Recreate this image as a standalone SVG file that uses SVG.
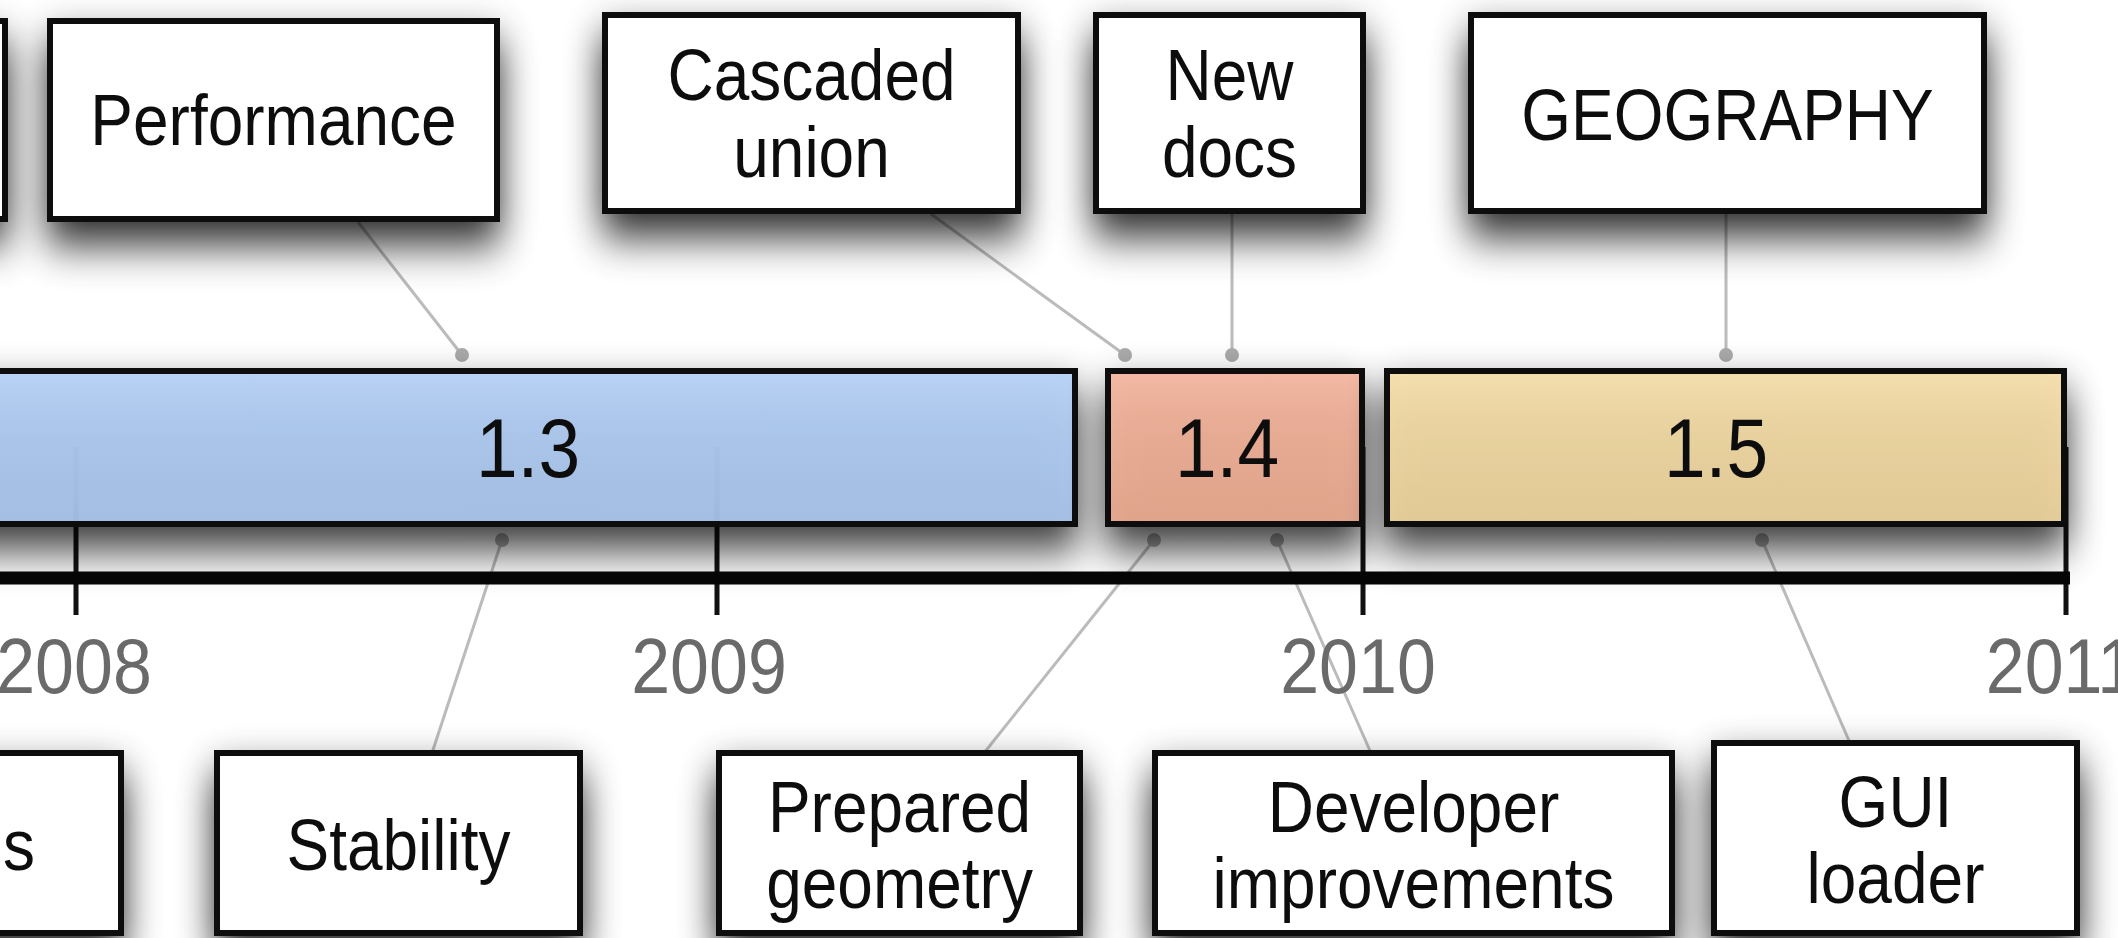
<svg xmlns="http://www.w3.org/2000/svg" width="2118" height="938" viewBox="0 0 2118 938">
<style>
.box{fill:#ffffff;stroke:#111111;stroke-width:6}
.bar{stroke:#111111;stroke-width:6;fill-opacity:0.92}
.t{font-family:"Liberation Sans",Arial,Helvetica,sans-serif;font-size:64px;fill:#111111;text-anchor:middle}
.bt{font-family:"Liberation Sans",Arial,Helvetica,sans-serif;font-size:75px;fill:#111111;text-anchor:middle}
.yr{font-family:"Liberation Sans",Arial,Helvetica,sans-serif;font-size:70px;fill:#6a6a6a;text-anchor:middle}
.con{stroke:#bbbbbb;stroke-width:3;fill:none}
.dot{fill:#aaaaaa}
.tick{stroke:#111111;stroke-width:5}
</style>
<defs>
<filter id="sh" x="-30%" y="-80%" width="160%" height="260%">
<feGaussianBlur in="SourceAlpha" stdDeviation="18 22"/>
<feOffset dy="22"/>
<feComponentTransfer><feFuncA type="linear" slope="0.85"/></feComponentTransfer>
<feMerge><feMergeNode/><feMergeNode in="SourceGraphic"/></feMerge>
</filter>
<linearGradient id="gBlue" x1="0" y1="0" x2="0" y2="1"><stop offset="0" stop-color="#b5d0f6"/><stop offset="1" stop-color="#a6c1e8"/></linearGradient>
<linearGradient id="gRed" x1="0" y1="0" x2="0" y2="1"><stop offset="0" stop-color="#f3b59e"/><stop offset="1" stop-color="#e5a58b"/></linearGradient>
<linearGradient id="gYel" x1="0" y1="0" x2="0" y2="1"><stop offset="0" stop-color="#f4dda9"/><stop offset="1" stop-color="#e6ce97"/></linearGradient>
</defs>
<rect x="0" y="0" width="2118" height="938" fill="#ffffff"/>

<g id="connectors">
<line class="con" x1="358" y1="222" x2="462" y2="355"/>
<circle class="dot" cx="462" cy="355" r="7"/>
<line class="con" x1="931" y1="214" x2="1125" y2="355"/>
<circle class="dot" cx="1125" cy="355" r="7"/>
<line class="con" x1="1232" y1="214" x2="1232" y2="355"/>
<circle class="dot" cx="1232" cy="355" r="7"/>
<line class="con" x1="1726" y1="214" x2="1726" y2="355"/>
<circle class="dot" cx="1726" cy="355" r="7"/>
<line class="con" x1="502" y1="540" x2="432" y2="753"/>
<circle class="dot" cx="502" cy="540" r="7"/>
<line class="con" x1="1154" y1="540" x2="984" y2="753"/>
<circle class="dot" cx="1154" cy="540" r="7"/>
<line class="con" x1="1277" y1="540" x2="1371" y2="753"/>
<circle class="dot" cx="1277" cy="540" r="7"/>
<line class="con" x1="1762" y1="540" x2="1850" y2="743"/>
<circle class="dot" cx="1762" cy="540" r="7"/>
</g>

<g id="ticks">
<line class="tick" x1="76" y1="447" x2="76" y2="615"/>
<line class="tick" x1="717" y1="447" x2="717" y2="615"/>
<line class="tick" x1="1363" y1="447" x2="1363" y2="615"/>
<line class="tick" x1="2066" y1="447" x2="2066" y2="615"/>
</g>

<g id="bar13" filter="url(#sh)">
<rect class="bar" x="-40" y="371" width="1115" height="153" fill="url(#gBlue)"/>
<text class="bt" transform="translate(528,477) scale(1,1.12)">1.3</text>
</g>
<g id="bar14" filter="url(#sh)">
<rect class="bar" x="1108" y="371" width="254" height="153" fill="url(#gRed)"/>
<text class="bt" transform="translate(1227,477) scale(1,1.12)">1.4</text>
</g>
<g id="bar15" filter="url(#sh)">
<rect class="bar" x="1387" y="371" width="677" height="153" fill="url(#gYel)"/>
<text class="bt" transform="translate(1716,477) scale(1,1.12)">1.5</text>
</g>

<g id="axis">
<line x1="-10" y1="578" x2="2070" y2="578" stroke="#050505" stroke-width="13"/>
<text class="yr" transform="translate(74,693) scale(1,1.12)">2008</text>
<text class="yr" transform="translate(709,693) scale(1,1.12)">2009</text>
<text class="yr" transform="translate(1358,693) scale(1,1.12)">2010</text>
<text class="yr" transform="translate(2061,693) scale(1,1.12)">2011</text>
</g>

<g id="node-topleft" filter="url(#sh)">
<rect class="box" x="-300" y="21" width="305" height="198"/>
</g>
<g id="node-performance" filter="url(#sh)">
<rect class="box" x="50" y="21" width="447" height="198"/>
<text class="t" transform="translate(273.5,145) scale(1,1.12)">Performance</text>
</g>
<g id="node-cascaded" filter="url(#sh)">
<rect class="box" x="605" y="15" width="413" height="196"/>
<text class="t" transform="translate(811.5,100) scale(1,1.12)"><tspan x="0" y="0">Cascaded</tspan><tspan x="0" y="68.75">union</tspan></text>
</g>
<g id="node-newdocs" filter="url(#sh)">
<rect class="box" x="1096" y="15" width="267" height="196"/>
<text class="t" transform="translate(1229.5,100) scale(1,1.12)"><tspan x="0" y="0">New</tspan><tspan x="0" y="68.75">docs</tspan></text>
</g>
<g id="node-geography" filter="url(#sh)">
<rect class="box" x="1471" y="15" width="513" height="196"/>
<text class="t" transform="translate(1727.5,140) scale(1,1.12)">GEOGRAPHY</text>
</g>

<g id="node-bottomleft" filter="url(#sh)">
<rect class="box" x="-300" y="753" width="421" height="180"/>
<text class="t" style="text-anchor:end" transform="translate(35,870) scale(1,1.12)">s</text>
</g>
<g id="node-stability" filter="url(#sh)">
<rect class="box" x="217" y="753" width="363" height="180"/>
<text class="t" transform="translate(398.5,870) scale(1,1.12)">Stability</text>
</g>
<g id="node-prepared" filter="url(#sh)">
<rect class="box" x="719" y="753" width="361" height="180"/>
<text class="t" transform="translate(899.5,832) scale(1,1.12)"><tspan x="0" y="0">Prepared</tspan><tspan x="0" y="67.86">geometry</tspan></text>
</g>
<g id="node-developer" filter="url(#sh)">
<rect class="box" x="1155" y="753" width="517" height="180"/>
<text class="t" transform="translate(1413.5,832) scale(1,1.12)"><tspan x="0" y="0">Developer</tspan><tspan x="0" y="67.86">improvements</tspan></text>
</g>
<g id="node-gui" filter="url(#sh)">
<rect class="box" x="1714" y="743" width="363" height="190"/>
<text class="t" transform="translate(1895.5,827) scale(1,1.12)"><tspan x="0" y="0">GUI</tspan><tspan x="0" y="67.86">loader</tspan></text>
</g>
</svg>
